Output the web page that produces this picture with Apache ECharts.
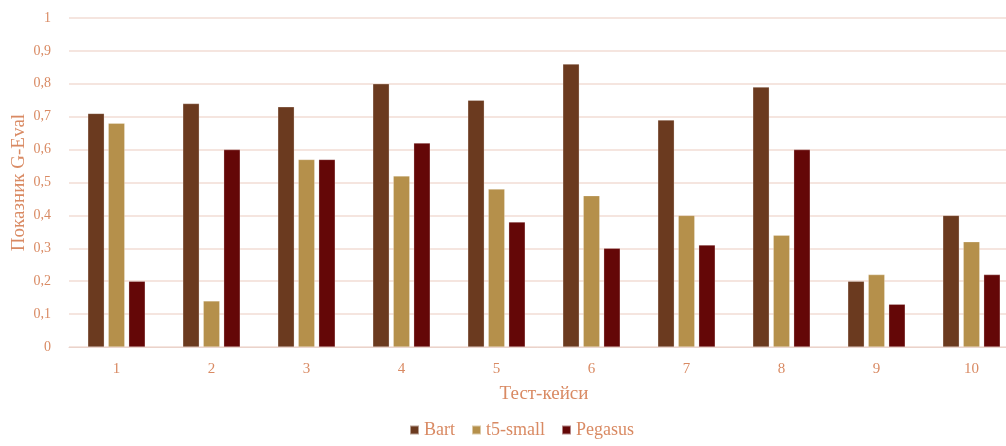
<!DOCTYPE html>
<html><head><meta charset="utf-8">
<script src="https://cdn.jsdelivr.net/npm/echarts@6/dist/echarts.min.js"></script>
<style>html,body{margin:0;padding:0;background:#fff}#c{width:1006px;height:446px}</style>
</head><body><div id="c"></div>
<script>
const categories = ['1','2','3','4','5','6','7','8','9','10'];
const bart = [0.71,0.74,0.73,0.80,0.75,0.86,0.69,0.79,0.20,0.40];
const t5small = [0.68,0.14,0.57,0.52,0.48,0.46,0.40,0.34,0.22,0.32];
const pegasus = [0.20,0.60,0.57,0.62,0.38,0.30,0.31,0.60,0.13,0.22];
const txt = '#D98A63';
const font = 'Liberation Serif';
const chart = echarts.init(document.getElementById('c'));
chart.setOption({
  animation:false,
  textStyle:{fontFamily:font},
  color:['#6B3A1F','#B5904B','#640707'],
  grid:{left:69,right:-13,top:18,bottom:99,containLabel:false,outerBoundsMode:'none'},
  legend:{bottom:2,left:404,itemWidth:9,itemHeight:9,itemGap:16,icon:'rect',
    textStyle:{color:txt,fontFamily:font,fontSize:18}},
  xAxis:{type:'category',data:categories,name:'Тест-кейси',nameLocation:'middle',nameGap:38,
    nameTextStyle:{color:txt,fontFamily:font,fontSize:19},
    axisLine:{lineStyle:{color:'#EAD3CB'}},axisTick:{show:false},
    axisLabel:{color:txt,fontFamily:font,fontSize:15,margin:15}},
  yAxis:{type:'value',min:0,max:1,interval:0.1,name:'Показник G-Eval',nameLocation:'middle',nameGap:40,nameMoveOverlap:false,
    nameTextStyle:{color:txt,fontFamily:font,fontSize:19},
    axisLine:{show:false},axisTick:{show:false},
    splitLine:{lineStyle:{color:'#F2DCD4',width:1.5}},
    axisLabel:{color:txt,fontFamily:font,fontSize:14,margin:18,
      formatter:v=>String(Math.round(v*10)/10).replace('.',',')}},
  series:[
    {name:'Bart',type:'bar',data:bart,barWidth:16.5,barGap:'24%',itemStyle:{borderColor:'rgba(255,255,255,0.5)',borderWidth:0.5}},
    {name:'t5-small',type:'bar',data:t5small,barWidth:16.5,barGap:'24%',itemStyle:{borderColor:'rgba(255,255,255,0.5)',borderWidth:0.5}},
    {name:'Pegasus',type:'bar',data:pegasus,barWidth:16.5,barGap:'24%',itemStyle:{borderColor:'rgba(255,255,255,0.5)',borderWidth:0.5}}
  ]
});
</script></body></html>
